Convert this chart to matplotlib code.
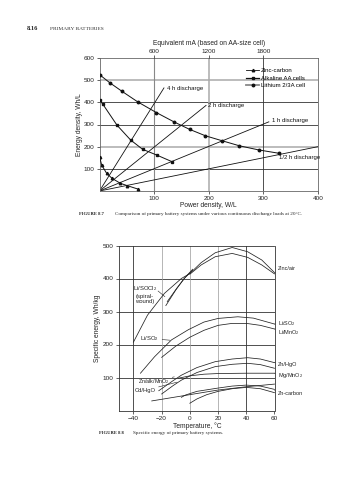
import matplotlib.pyplot as plt
from matplotlib.lines import Line2D

plt.rcParams['font.family'] = ['Liberation Sans', 'DejaVu Sans']
plt.rcParams['mathtext.fontset'] = 'custom'
plt.rcParams['mathtext.rm'] = 'Liberation Sans'

W, H = 358.0, 480.0

# ---- Figure 8.7: energy density vs power density ----
discharge_labels = ['4 h discharge', '2 h discharge', '1 h discharge', '1/2 h discharge']
discharge_end_p = [118, 195, 310, 400]
discharge_end_e = [465, 386, 312, 200]
discharge_text_p = [123, 199, 315, 329]
discharge_text_e = [462, 384, 320, 150]

zinc_p = [0, 4, 13, 23, 38, 51, 70]
zinc_e = [155, 117, 80, 57, 35, 24, 9]
alk_p = [0, 6, 32, 57, 79, 105, 133]
alk_e = [410, 392, 297, 230, 188, 162, 132]
lith_p = [0, 19, 41, 70, 104, 137, 165, 194, 224, 256, 292, 329]
lith_e = [525, 488, 450, 402, 354, 311, 278, 249, 227, 204, 185, 170]

top_ticks = [100, 200, 300]
top_labels = ['600', '1200', '1800']

# ---- Figure 8.8: specific energy vs temperature ----
zinc_air_hi_t = [0, 8, 18, 30, 41, 51, 60]
zinc_air_hi_e = [415, 448, 478, 494, 481, 456, 418]
zinc_air_lo_t = [0, 8, 18, 30, 41, 51, 60]
zinc_air_lo_e = [413, 441, 466, 476, 464, 441, 414]
lisocl2_t = [-40, -30, -18, -6, 0]
lisocl2_e = [207, 289, 355, 400, 415]
lisocl2_b_t = [-17, -10, -4, 2]
lisocl2_b_e = [318, 365, 400, 425]
lisocl2_c_t = [-16, -9, -3, 2]
lisocl2_c_e = [330, 372, 405, 428]
liso2_t = [-35, -25, -13, -1, 10, 20, 34, 45, 60]
liso2_e = [113, 163, 214, 245, 268, 279, 284, 280, 262]
limno2_t = [-20, -10, 0, 10, 20, 30, 40, 50, 60]
limno2_e = [161, 195, 222, 243, 258, 264, 264, 258, 247]
znhgo_t = [-22, -12, -6, 5, 18, 30, 41, 50, 60]
znhgo_e = [60, 90, 107, 130, 148, 156, 160, 156, 145]
znalk_t = [-20, -12, -6, 5, 18, 30, 41, 50, 60]
znalk_e = [50, 75, 92, 115, 133, 140, 143, 139, 128]
mgmno2_t = [-8, 0, 10, 20, 40, 60]
mgmno2_e = [98, 105, 110, 112, 113, 113]
cdhgo_t = [-27, 0, 20, 40, 60]
cdhgo_e = [29, 48, 62, 72, 80]
zncarb_a_t = [-6, -3, 5, 20, 30, 40, 50, 60]
zncarb_a_e = [40, 47, 58, 68, 74, 77, 74, 64]
zncarb_b_t = [0, 5, 12, 20, 30, 40, 50, 60]
zncarb_b_e = [22, 35, 48, 58, 66, 70, 66, 54]


def px_axes(left, top, right, bottom):
    return [left / W, 1 - bottom / H, (right - left) / W, (bottom - top) / H]


def caption(x_num, x_text, y, num, text):
    fig.text(x_num / W, 1 - y / H, num, family='Liberation Serif', fontsize=3.3,
             fontweight='bold', va='center', color='#222')
    fig.text(x_text / W, 1 - y / H, text, family='Liberation Serif', fontsize=3.7,
             va='center', color='#222')


fig = plt.figure(figsize=(3.58, 4.8), dpi=100)
fig.patch.set_facecolor('white')

# page header
fig.text(27 / W, 1 - 29 / H, '8.16', family='Liberation Serif', fontsize=4.6,
         fontweight='bold', va='center', color='#222')
fig.text(50 / W, 1 - 29 / H, 'PRIMARY BATTERIES', family='Liberation Serif',
         fontsize=3.9, va='center', color='#333')

# ================= figure 8.7 =================
ax = fig.add_axes(px_axes(99.5, 58, 318, 191))
ax.set_xlim(0, 400)
ax.set_ylim(0, 600)
for y in [100, 300, 400]:
    ax.axhline(y, color='#333', lw=0.6, zorder=1)
for y in [200, 500]:
    ax.axhline(y, color='#aaa', lw=1.1, zorder=1)
ax.axvline(100, color='#888', lw=0.8, zorder=1)
ax.axvline(200, color='#aaa', lw=1.1, zorder=1)
ax.axvline(300, color='#333', lw=0.6, zorder=1)

for p, e, tp, te, lab in zip(discharge_end_p, discharge_end_e,
                             discharge_text_p, discharge_text_e, discharge_labels):
    ax.plot([0, p], [0, e], color='#111', lw=0.6, zorder=2)
    ax.text(tp, te, lab, fontsize=4.3, va='center', ha='left', color='#111')

ax.plot(zinc_p, zinc_e, color='#111', lw=0.7, marker='^', ms=1.8, zorder=3)
ax.plot(alk_p, alk_e, color='#111', lw=0.7, marker='s', ms=1.6, zorder=3)
ax.plot(lith_p, lith_e, color='#111', lw=0.7, marker='o', ms=1.8, zorder=3)

handles = [Line2D([], [], color='#111', lw=0.6, marker='^', ms=1.8),
           Line2D([], [], color='#111', lw=0.9, marker='s', ms=1.6),
           Line2D([], [], color='#888', lw=1.3, marker='o', ms=1.8, mec='#111', mfc='#111')]
ax.legend(handles, ['Zinc-carbon', 'Alkaline AA cells', 'Lithium 2/3A cell'],
          loc='upper left', bbox_to_anchor=(0.655, 0.955), frameon=False,
          fontsize=4.3, handlelength=2.2, handletextpad=0.3, labelspacing=0.45,
          borderpad=0.1)

ax.set_xticks([100, 200, 300, 400])
ax.set_yticks([100, 200, 300, 400, 500, 600])
ax.tick_params(labelsize=4.6, length=2, width=0.5, pad=1.5, colors='#222')
for s in ax.spines.values():
    s.set_color('#666')
    s.set_linewidth(0.6)
ax.set_xlabel('Power density, W/L', fontsize=4.8, labelpad=0.8, color='#222')
ax.set_ylabel('Energy density, Wh/L', fontsize=4.8, labelpad=0.5, color='#222')

top = ax.twiny()
top.set_xlim(ax.get_xlim())
top.set_xticks(top_ticks)
top.set_xticklabels(top_labels)
top.tick_params(labelsize=4.6, length=2, width=0.5, pad=1, colors='#222')
top.set_xlabel('Equivalent mA (based on AA-size cell)', fontsize=4.8, labelpad=2.5,
               color='#222')
for s in top.spines.values():
    s.set_visible(False)

caption(79, 115, 214, 'FIGURE 8.7',
        'Comparison of primary battery systems under various continuous '
        'discharge loads at 20\u00b0C.')

# ================= figure 8.8 =================
bx = fig.add_axes(px_axes(119.3, 245.5, 274.5, 410.5))
bx.set_xlim(-50, 60)
bx.set_ylim(0, 500)
for y in [100, 200, 300, 400]:
    bx.axhline(y, color='#333', lw=0.6, zorder=1)
for t in [-40, 40]:
    bx.axvline(t, color='#333', lw=0.6, zorder=1)
for t in [-20, 0, 20]:
    bx.axvline(t, color='#999', lw=0.5, zorder=1)

curve_kw = dict(color='#222', lw=0.55, zorder=3)
for tt, ee in [(zinc_air_hi_t, zinc_air_hi_e), (zinc_air_lo_t, zinc_air_lo_e),
               (lisocl2_t, lisocl2_e), (lisocl2_b_t, lisocl2_b_e),
               (lisocl2_c_t, lisocl2_c_e), (liso2_t, liso2_e),
               (limno2_t, limno2_e), (znhgo_t, znhgo_e), (znalk_t, znalk_e),
               (mgmno2_t, mgmno2_e), (cdhgo_t, cdhgo_e),
               (zncarb_a_t, zncarb_a_e), (zncarb_b_t, zncarb_b_e)]:
    bx.plot(tt, ee, **curve_kw)

lead = dict(arrowstyle='-', lw=0.4, color='#222', shrinkA=0, shrinkB=0)
right_labels = [('Zinc/air', 60, 416, 431),
                ('Li/SO$_2$', 60, 262, 263),
                ('Li/MnO$_2$', 60, 247, 237),
                ('Zn/HgO', 60, 145, 140),
                ('Mg/MnO$_2$', 60, 113, 106),
                ('Zn-carbon', 60, 60, 52)]
for lab, t0, e0, et in right_labels:
    bx.annotate(lab, xy=(t0, e0), xytext=(62.5, et), fontsize=4.0, va='center',
                ha='left', color='#222', annotation_clip=False, arrowprops=lead)

bx.text(-31.8, 352, 'Li/SOCl$_2$\n(spiral-\nwound)', fontsize=4.2, ha='center',
        va='center', color='#222', linespacing=1.1)
bx.plot([-22.5, -17.7], [362, 345], color='#222', lw=0.4)
bx.annotate('Li/SO$_2$', xy=(-14, 213), xytext=(-35, 218), fontsize=4.2,
            va='center', ha='left', color='#222', arrowprops=lead)
bx.annotate('Zn/alk/MnO$_2$', xy=(-11, 102), xytext=(-37, 88), fontsize=3.9,
            va='center', ha='left', color='#222', arrowprops=lead)
bx.annotate('Cd/HgO', xy=(-9, 86), xytext=(-39, 61), fontsize=4.2,
            va='center', ha='left', color='#222', arrowprops=lead)

bx.set_xticks([-40, -20, 0, 20, 40, 60])
bx.set_xticklabels(['\u221240', '\u221220', '0', '20', '40', '60'])
bx.set_yticks([100, 200, 300, 400, 500])
bx.tick_params(labelsize=4.6, length=2.5, width=0.5, pad=1.5, colors='#222')
for s in bx.spines.values():
    s.set_color('#333')
    s.set_linewidth(0.6)
bx.set_xlabel('Temperature, \u00b0C', fontsize=4.8, labelpad=0.8, color='#222')
bx.set_ylabel('Specific energy, Wh/kg', fontsize=4.8, labelpad=1.5, color='#222')

caption(99, 133, 433, 'FIGURE 8.8', 'Specific energy of primary battery systems.')

fig.savefig('out.png', dpi=100)
